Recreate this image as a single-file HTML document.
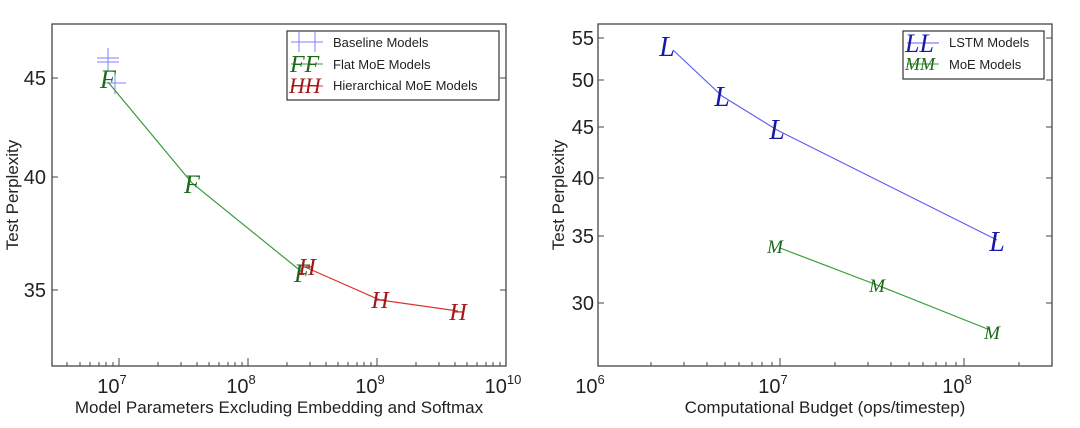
<!DOCTYPE html>
<html><head><meta charset="utf-8"><style>
body{margin:0;background:#fff}
svg{display:block}
text{font-family:"Liberation Sans",sans-serif;fill:#222}
.t{font-size:20px}
.l{font-size:17px}
.g{font-size:13px}
text.m,.m text{font-family:"Liberation Serif",serif;font-style:italic}
</style></head><body>
<svg width="1080" height="428" viewBox="0 0 1080 428">
<!-- LEFT -->
<rect x="52" y="24" width="454" height="342" fill="none" stroke="#444" stroke-width="1.3"/>
<g stroke="#444" stroke-width="1">
<line x1="119" y1="366" x2="119" y2="358"/><line x1="248" y1="366" x2="248" y2="358"/><line x1="377" y1="366" x2="377" y2="358"/>
<line x1="52" y1="78" x2="58" y2="78"/><line x1="52" y1="177" x2="58" y2="177"/><line x1="52" y1="290" x2="58" y2="290"/>
<line x1="506" y1="78" x2="500" y2="78"/><line x1="506" y1="177" x2="500" y2="177"/><line x1="506" y1="290" x2="500" y2="290"/>
<!-- minor ticks -->
<line x1="67" y1="366" x2="67" y2="362"/><line x1="80" y1="366" x2="80" y2="362"/><line x1="90" y1="366" x2="90" y2="362"/><line x1="99" y1="366" x2="99" y2="362"/><line x1="106" y1="366" x2="106" y2="362"/><line x1="113" y1="366" x2="113" y2="362"/>
<line x1="158" y1="366" x2="158" y2="362"/><line x1="181" y1="366" x2="181" y2="362"/><line x1="197" y1="366" x2="197" y2="362"/><line x1="209" y1="366" x2="209" y2="362"/><line x1="219" y1="366" x2="219" y2="362"/><line x1="228" y1="366" x2="228" y2="362"/><line x1="235" y1="366" x2="235" y2="362"/><line x1="242" y1="366" x2="242" y2="362"/>
<line x1="287" y1="366" x2="287" y2="362"/><line x1="310" y1="366" x2="310" y2="362"/><line x1="326" y1="366" x2="326" y2="362"/><line x1="338" y1="366" x2="338" y2="362"/><line x1="348" y1="366" x2="348" y2="362"/><line x1="357" y1="366" x2="357" y2="362"/><line x1="364" y1="366" x2="364" y2="362"/><line x1="371" y1="366" x2="371" y2="362"/>
<line x1="416" y1="366" x2="416" y2="362"/><line x1="439" y1="366" x2="439" y2="362"/><line x1="455" y1="366" x2="455" y2="362"/><line x1="467" y1="366" x2="467" y2="362"/><line x1="477" y1="366" x2="477" y2="362"/><line x1="486" y1="366" x2="486" y2="362"/><line x1="493" y1="366" x2="493" y2="362"/><line x1="500" y1="366" x2="500" y2="362"/>
</g>
<text class="t" x="46" y="85" text-anchor="end">45</text>
<text class="t" x="46" y="184" text-anchor="end">40</text>
<text class="t" x="46" y="297" text-anchor="end">35</text>
<text class="t" x="112" y="393" text-anchor="middle">10<tspan font-size="13" dy="-9">7</tspan></text>
<text class="t" x="241" y="393" text-anchor="middle">10<tspan font-size="13" dy="-9">8</tspan></text>
<text class="t" x="370" y="393" text-anchor="middle">10<tspan font-size="13" dy="-9">9</tspan></text>
<text class="t" x="503" y="393" text-anchor="middle">10<tspan font-size="13" dy="-9">10</tspan></text>
<text class="l" x="279" y="413" text-anchor="middle">Model Parameters Excluding Embedding and Softmax</text>
<text class="l" transform="translate(18,195) rotate(-90)" text-anchor="middle">Test Perplexity</text>
<g stroke="#8080ff" stroke-width="1"><line x1="97" y1="58" x2="119" y2="58"/><line x1="97" y1="62" x2="119" y2="62"/><line x1="108" y1="48" x2="108" y2="72"/><line x1="104" y1="83" x2="126" y2="83"/><line x1="115" y1="72" x2="115" y2="94"/></g>
<polyline points="108,82 192,183 302,272" fill="none" stroke="#3a9a3a" stroke-width="1.2"/>
<polyline points="305,267 380,300 458,311" fill="none" stroke="#e03030" stroke-width="1.2"/>
<g class="m" font-size="26" text-anchor="middle">
<text x="108" y="88" style="fill:#1a6a1a">F</text><text x="192" y="193" style="fill:#1a6a1a">F</text><text x="302" y="282" style="fill:#1a6a1a">F</text></g>
<g class="m" font-size="24" text-anchor="middle">
<text x="307" y="275" style="fill:#a01818">H</text><text x="380" y="308" style="fill:#a01818">H</text><text x="458" y="320" style="fill:#a01818">H</text></g>
<rect x="287" y="31" width="212" height="69" fill="#fff" stroke="#333" stroke-width="1.2"/>
<g stroke="#8080ff"><line x1="291" y1="42" x2="323" y2="42"/><line x1="299" y1="32" x2="299" y2="52"/><line x1="315" y1="32" x2="315" y2="52"/></g>
<line x1="291" y1="64" x2="323" y2="64" stroke="#3a9a3a"/>
<line x1="291" y1="86" x2="323" y2="86" stroke="#e03030"/>
<text class="m" x="290" y="72" font-size="24" style="fill:#1a6a1a">FF</text>
<text class="m" x="289" y="93" font-size="22" style="fill:#a01818">HH</text>
<text class="g" x="333" y="47">Baseline Models</text>
<text class="g" x="333" y="69">Flat MoE Models</text>
<text class="g" x="333" y="90">Hierarchical MoE Models</text>
<!-- RIGHT -->
<rect x="598" y="24" width="454" height="342" fill="none" stroke="#444" stroke-width="1.3"/>
<g stroke="#444" stroke-width="1">
<line x1="780" y1="366" x2="780" y2="358"/><line x1="964" y1="366" x2="964" y2="358"/>
<line x1="598" y1="38" x2="604" y2="38"/><line x1="598" y1="80" x2="604" y2="80"/><line x1="598" y1="127" x2="604" y2="127"/><line x1="598" y1="178" x2="604" y2="178"/><line x1="598" y1="236" x2="604" y2="236"/><line x1="598" y1="303" x2="604" y2="303"/>
<line x1="1052" y1="38" x2="1046" y2="38"/><line x1="1052" y1="80" x2="1046" y2="80"/><line x1="1052" y1="127" x2="1046" y2="127"/><line x1="1052" y1="178" x2="1046" y2="178"/><line x1="1052" y1="236" x2="1046" y2="236"/><line x1="1052" y1="303" x2="1046" y2="303"/>
<line x1="651" y1="366" x2="651" y2="362"/><line x1="684" y1="366" x2="684" y2="362"/><line x1="707" y1="366" x2="707" y2="362"/><line x1="725" y1="366" x2="725" y2="362"/><line x1="739" y1="366" x2="739" y2="362"/><line x1="752" y1="366" x2="752" y2="362"/><line x1="762" y1="366" x2="762" y2="362"/><line x1="772" y1="366" x2="772" y2="362"/>
<line x1="835" y1="366" x2="835" y2="362"/><line x1="868" y1="366" x2="868" y2="362"/><line x1="891" y1="366" x2="891" y2="362"/><line x1="909" y1="366" x2="909" y2="362"/><line x1="923" y1="366" x2="923" y2="362"/><line x1="936" y1="366" x2="936" y2="362"/><line x1="946" y1="366" x2="946" y2="362"/><line x1="956" y1="366" x2="956" y2="362"/>
<line x1="1019" y1="366" x2="1019" y2="362"/>
</g>
<g class="t" text-anchor="end"><text x="594" y="45">55</text><text x="594" y="87">50</text><text x="594" y="134">45</text><text x="594" y="185">40</text><text x="594" y="243">35</text><text x="594" y="310">30</text></g>
<text class="t" x="590" y="393" text-anchor="middle">10<tspan font-size="13" dy="-9">6</tspan></text>
<text class="t" x="773" y="393" text-anchor="middle">10<tspan font-size="13" dy="-9">7</tspan></text>
<text class="t" x="957" y="393" text-anchor="middle">10<tspan font-size="13" dy="-9">8</tspan></text>
<text class="l" x="825" y="413" text-anchor="middle">Computational Budget (ops/timestep)</text>
<text class="l" transform="translate(564,195) rotate(-90)" text-anchor="middle">Test Perplexity</text>
<polyline points="673,50 722,96 777,130 997,240" fill="none" stroke="#6060ee" stroke-width="1.2"/>
<polyline points="780,248 877,285 990,330" fill="none" stroke="#3a9a3a" stroke-width="1.2"/>
<g class="m" font-size="28" text-anchor="middle">
<text x="667" y="56" style="fill:#1818a8">L</text><text x="722" y="106" style="fill:#1818a8">L</text><text x="777" y="139" style="fill:#1818a8">L</text><text x="997" y="251" style="fill:#1818a8">L</text></g>
<g class="m" font-size="19" text-anchor="middle">
<text x="775" y="253" style="fill:#1a6a1a">M</text><text x="877" y="292" style="fill:#1a6a1a">M</text><text x="992" y="339" style="fill:#1a6a1a">M</text></g>
<rect x="903" y="31" width="141" height="48" fill="#fff" stroke="#333" stroke-width="1.2"/>
<line x1="907" y1="43" x2="939" y2="43" stroke="#6060ee"/>
<line x1="907" y1="64" x2="939" y2="64" stroke="#3a9a3a"/>
<text class="m" x="905" y="52" font-size="26" style="fill:#1818a8">LL</text>
<text class="m" x="905" y="70" font-size="18" style="fill:#1a6a1a">MM</text>
<text class="g" x="949" y="47">LSTM Models</text>
<text class="g" x="949" y="69">MoE Models</text>
</svg>
</body></html>
